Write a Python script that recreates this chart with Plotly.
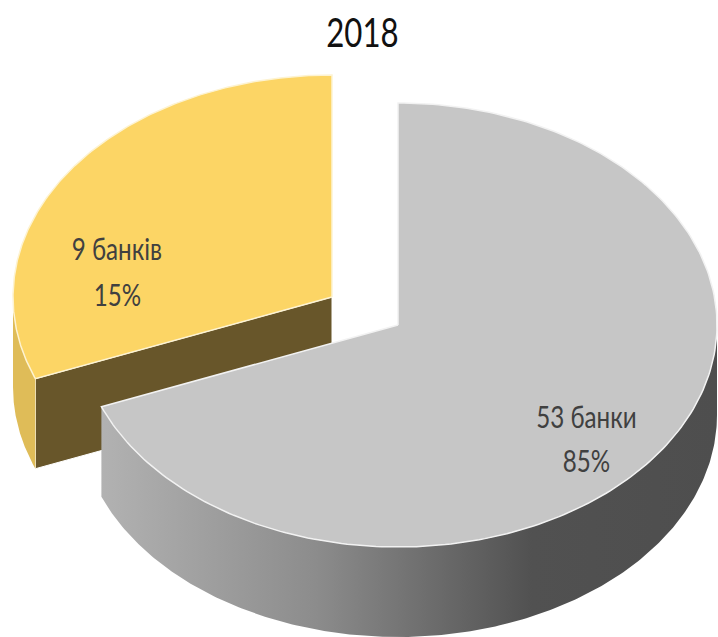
import numpy as np
import plotly.graph_objects as go

# --- data ---
title = "2018"
bank_labels = ["53 банки", "9 банків"]
percent_labels = ["85%", "15%"]
# slice sweep as actually drawn in the picture (share of the full circle)
drawn_shares = [69.0, 31.0]

# --- styles / geometry ---
W, H = 718, 637
RX, RY, DEPTH = 319, 222, 89
CENTERS = [(398, 325), (332, 297)]
TOP_COL = ["#c6c6c6", "#fcd565"]
FONT = "Lato, Open Sans, sans-serif"
LABEL_POS = [(586, 416, 460), (117, 248, 294)]

sweep = np.array(drawn_shares) / sum(drawn_shares) * 2 * np.pi
boundary = sweep[0]


def arc(cx, cy, a0, a1, dy=0, n=240):
    t = np.linspace(a0, a1, n)
    return cx + RX * np.sin(t), cy - RY * np.cos(t) + dy


fig = go.Figure()


def poly(x, y, color=None, line=None, gradient=None):
    kw = dict(x=list(x), y=list(y), mode="lines", fill="toself",
              line=line or dict(width=0), hoverinfo="skip", showlegend=False)
    if gradient:
        kw["fillgradient"] = gradient
    else:
        kw["fillcolor"] = color
    fig.add_trace(go.Scatter(**kw))


# yellow slice: cut face, outer wall, top
(cx, cy) = CENTERS[1]
ex, ey = arc(cx, cy, boundary, boundary, n=1)
poly([ex[0], cx, cx, ex[0], ex[0]],
     [ey[0], cy, cy + DEPTH + 1, ey[0] + DEPTH + 1, ey[0]], "#68562a",
     line=dict(width=1, color="#ffffff"))
ax, ay = arc(cx, cy, boundary, 1.5 * np.pi)
poly(list(ax) + list(ax[::-1]), list(ay) + list(ay[::-1] + DEPTH + 1), "#dfbc58")
ax, ay = arc(cx, cy, boundary, 2 * np.pi)
poly([cx] + list(ax) + [cx], [cy] + list(ay) + [cy], TOP_COL[1],
     line=dict(width=1.5, color="#fdf3d2"))

# grey slice: outer wall with shading, top
(cx, cy) = CENTERS[0]
ax, ay = arc(cx, cy, 0.5 * np.pi, boundary)
poly(list(ax) + list(ax[::-1]), list(ay) + list(ay[::-1] + DEPTH + 1),
     gradient=dict(type="horizontal", start=100, stop=717,
                   colorscale=[[0, "#b2b2b2"], [0.35, "#8c8c8c"],
                               [0.7, "#515151"], [1, "#4e4e4e"]]))
ax, ay = arc(cx, cy, 0, boundary)
poly([cx] + list(ax) + [cx], [cy] + list(ay) + [cy], TOP_COL[0],
     line=dict(width=1.5, color="#f2f2f2"))

annotations = [dict(x=362, y=32, text=title, showarrow=False,
                    font=dict(family=FONT, size=40, color="#111111"))]
for bank, pct, (x, y1, y2) in zip(bank_labels, percent_labels, LABEL_POS):
    for txt, y in ((bank, y1), (pct, y2)):
        annotations.append(dict(x=x, y=y, text=txt, showarrow=False,
                                font=dict(family=FONT, size=31, color="#404040")))

fig.update_layout(
    width=W, height=H, margin=dict(l=0, r=0, t=0, b=0),
    paper_bgcolor="#ffffff", plot_bgcolor="#ffffff", showlegend=False,
    xaxis=dict(range=[0, W], visible=False, fixedrange=True),
    yaxis=dict(range=[H, 0], visible=False, fixedrange=True),
    annotations=annotations,
)
squeeze = """
document.body.style.margin = '0';
document.querySelectorAll('.annotation-text').forEach(function (t) {
  t.style.transformBox = 'fill-box';
  t.style.transformOrigin = 'center';
  t.style.transform = 'scaleX(0.78)';
});
"""
fig.write_html("out.html", config=dict(displayModeBar=False), post_script=squeeze)
